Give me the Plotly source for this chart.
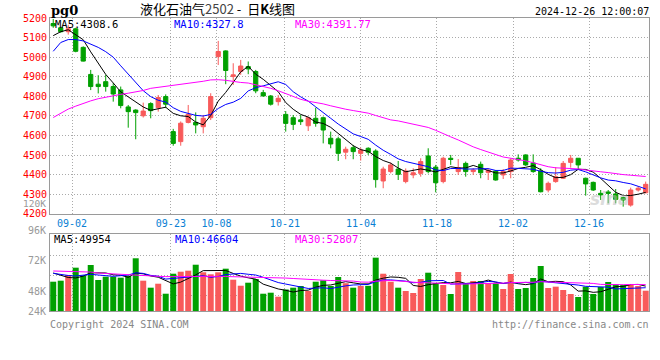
import plotly.graph_objects as go

# ---------------- data ----------------
dates = ["08-28", "08-29", "08-30",
         "09-02", "09-03", "09-04", "09-05", "09-06", "09-09", "09-10", "09-11", "09-12", "09-13",
         "09-18", "09-19", "09-20", "09-23", "09-24", "09-25", "09-26", "09-27", "09-30",
         "10-08", "10-09", "10-10", "10-11", "10-14", "10-15", "10-16", "10-17", "10-18",
         "10-21", "10-22", "10-23", "10-24", "10-25", "10-28", "10-29", "10-30", "10-31",
         "11-01", "11-04", "11-05", "11-06", "11-07", "11-08", "11-11", "11-12", "11-13", "11-14", "11-15",
         "11-18", "11-19", "11-20", "11-21", "11-22", "11-25", "11-26", "11-27", "11-28", "11-29",
         "12-02", "12-03", "12-04", "12-05", "12-06", "12-09", "12-10", "12-11", "12-12", "12-13",
         "12-16", "12-17", "12-18", "12-19", "12-20", "12-23", "12-24", "12-25", "12-26"]

open_ = [5172, 5150, 5130, 5145, 5050, 4912, 4862, 4875, 4850, 4833,
         4746, 4730, 4701, 4763, 4742, 4799, 4620, 4569, 4667, 4667,
         4645, 4691, 5003, 5032, 4901, 4927, 4952, 4927, 4819, 4802,
         4773, 4708, 4691, 4680, 4650, 4688, 4691, 4586, 4583, 4515,
         4538, 4509, 4535, 4521, 4368, 4416, 4429, 4365, 4399, 4407,
         4496, 4439, 4365, 4484, 4416, 4458, 4416, 4453, 4412, 4419,
         4399, 4416, 4484, 4501, 4460, 4419, 4322, 4365, 4382, 4463,
         4484, 4382, 4361, 4305, 4312, 4302, 4283, 4245, 4322, 4308]
high = [5195, 5155, 5165, 5150, 5055, 4935, 4908, 4910, 4867, 4850,
        4756, 4734, 4768, 4770, 4807, 4810, 4634, 4672, 4756, 4718,
        4705, 4816, 5083, 5035, 4969, 4986, 4978, 4935, 4833, 4807,
        4807, 4725, 4705, 4705, 4694, 4742, 4697, 4620, 4594, 4543,
        4552, 4538, 4540, 4530, 4441, 4462, 4470, 4432, 4433, 4484,
        4535, 4450, 4492, 4501, 4480, 4467, 4433, 4467, 4433, 4424,
        4429, 4484, 4504, 4504, 4504, 4433, 4365, 4439, 4470, 4501,
        4484, 4385, 4365, 4322, 4322, 4327, 4288, 4334, 4342, 4365]
low = [5150, 5125, 5115, 5025, 4978, 4832, 4815, 4824, 4773, 4739,
       4640, 4581, 4692, 4688, 4722, 4740, 4548, 4548, 4662, 4611,
       4611, 4679, 4960, 4862, 4858, 4910, 4913, 4816, 4799, 4753,
       4753, 4620, 4628, 4654, 4623, 4645, 4560, 4535, 4470, 4479,
       4479, 4472, 4501, 4334, 4331, 4407, 4373, 4356, 4382, 4390,
       4407, 4310, 4356, 4450, 4399, 4390, 4399, 4382, 4373, 4370,
       4378, 4382, 4467, 4445, 4410, 4310, 4310, 4359, 4378, 4436,
       4429, 4293, 4317, 4271, 4254, 4254, 4237, 4237, 4314, 4305]
close = [5160, 5130, 5145, 5030, 4980, 4850, 4850, 4850, 4812, 4753,
         4722, 4717, 4725, 4727, 4794, 4760, 4560, 4663, 4708, 4654,
         4688, 4799, 5029, 4932, 4910, 4955, 4940, 4828, 4802, 4760,
         4790, 4662, 4657, 4671, 4691, 4662, 4628, 4557, 4509, 4530,
         4518, 4526, 4515, 4375, 4429, 4450, 4402, 4419, 4410, 4467,
         4416, 4359, 4484, 4478, 4436, 4416, 4424, 4410, 4422, 4373,
         4416, 4475, 4475, 4450, 4416, 4313, 4356, 4390, 4458, 4484,
         4450, 4353, 4322, 4297, 4305, 4274, 4271, 4322, 4331, 4351]
volume = [58300, 60300, 71600, 86200, 70600, 91500, 61700, 68300, 68300, 66300,
          70200, 104900, 60300, 46400, 54300, 34400, 74200, 78200, 80200, 92100,
          77000, 73000, 77000, 84200, 62300, 50300, 56300, 63700, 34400, 36400,
          28500, 42800, 46400, 49800, 39800, 58300, 61100, 49800, 67700, 55300,
          46400, 49800, 50100, 106100, 74200, 58300, 46400, 39800, 35800, 63700,
          76200, 55100, 51700, 33800, 77600, 55700, 59700, 59700, 55100, 55100,
          43800, 73600, 43800, 45800, 65700, 89600, 45800, 48400, 41800, 33800,
          27900, 48400, 33800, 47800, 57700, 53700, 51700, 51700, 49800, 40400]

# moving-average values before a full window is visible
ma5_head = [5110, 5130, 5140, 5114]
ma10_head = [5030, 5075, 5090, 5090, 5083, 5068, 5050, 5028, 5000]
ma30_head = [4692, 4712, 4735, 4750, 4765, 4777, 4788, 4796, 4804, 4810,
             4816, 4822, 4830, 4841, 4846, 4850, 4854, 4861, 4866, 4872,
             4877, 4884, 4885, 4882, 4876, 4871, 4868, 4860, 4850]
vma5_head = [75600, 70600, 66700, 65700]
vma10_head = [75000, 72600, 70600, 69700, 71600, 73000, 71600, 70200, 69000]
vma30_head = [79600, 79400, 79200, 79000, 78600, 77500, 75500, 74500, 73500, 72800,
              72200, 71400, 70600, 69800, 69000, 68400, 68600, 68900, 69300, 69600,
              69600, 69200, 68900, 68600, 68300, 67800, 67200, 66700, 66300]

tick_labels = ["09-02", "09-23", "10-08", "10-21", "11-04", "11-18", "12-02", "12-16"]
price_ticks = list(range(4200, 5201, 100))
vol_labels = ["120K", "96K", "72K", "48K", "24K"]

ma_price_text = ["MA5:4308.6", "MA10:4327.8", "MA30:4391.77"]
ma_vol_text = ["MA5:49954", "MA10:46604", "MA30:52807"]


def rolling(vals, n, head):
    out = list(head)
    for i in range(len(head), len(vals)):
        out.append(sum(vals[i - n + 1:i + 1]) / n)
    return out


ma5 = rolling(close, 5, ma5_head)
ma10 = rolling(close, 10, ma10_head)
ma30 = rolling(close, 30, ma30_head)
vma5 = rolling(volume, 5, vma5_head)
vma10 = rolling(volume, 10, vma10_head)
vma30 = rolling(volume, 30, vma30_head)

# ---------------- styling / layout ----------------
RED = "#F85A5A"
GREEN = "#00A000"
C5, C10, C30 = "#000000", "#0000FF", "#FF00FF"
FRAME = "#9A9A9A"
GRID = "#AAAAAA"
MONO = "DejaVu Sans Mono"

W, H = 660, 360
L, R, T, B = 50, 649, 18, 311


def pxx(x):
    return (x - L) / (R - L)


def pxy(y):
    return (B - y) / (B - T)


idx = list(range(len(dates)))
GRID_STEP = 7.603 / 7.5
tickvals = [2.51 + (dates.index(t) - 3) * GRID_STEP for t in tick_labels]

fig = go.Figure()

fig.add_trace(go.Candlestick(
    x=idx, open=open_, high=high, low=low, close=close,
    increasing=dict(line=dict(color=RED, width=1), fillcolor=RED),
    decreasing=dict(line=dict(color=GREEN, width=1), fillcolor=GREEN),
    whiskerwidth=0, xaxis="x", yaxis="y", showlegend=False, hoverinfo="skip"))

for vals, col in [(ma5, C5), (ma10, C10), (ma30, C30)]:
    fig.add_trace(go.Scatter(x=idx, y=vals, mode="lines", line=dict(color=col, width=1),
                             xaxis="x", yaxis="y", showlegend=False, hoverinfo="skip"))

vcolors = [RED if c >= o else GREEN for o, c in zip(open_, close)]
fig.add_trace(go.Bar(x=idx, y=volume, marker=dict(color=vcolors, line=dict(width=0)),
                     xaxis="x2", yaxis="y2", showlegend=False, hoverinfo="skip"))
for vals, col in [(vma5, C5), (vma10, C10), (vma30, C30)]:
    fig.add_trace(go.Scatter(x=idx, y=vals, mode="lines", line=dict(color=col, width=1),
                             xaxis="x2", yaxis="y2", showlegend=False, hoverinfo="skip"))

xr = [-0.43, 79.44]
vol_top = 152600

ann = []


def text(x, y, s, color, size=10, xanchor="left", family=MONO, **kw):
    ann.append(dict(x=pxx(x), y=pxy(y), xref="paper", yref="paper", text=s, showarrow=False,
                    xanchor=xanchor, yanchor="middle", borderpad=0,
                    font=dict(family=family, size=size, color=color), **kw))


text(50, 10, "<b>pg0</b>", "#000000", size=13, family="DejaVu Serif")
text(139, 9, "液化石油气<span style='color:#444'>2502</span> -  日<b>K</b>线图", "#000000",
     size=13, family="Noto Sans CJK SC")
text(650, 12, "2024-12-26 12:00:07", "#000000", xanchor="right")

for s, x, c in zip(ma_price_text, [54, 173, 294], [C5, C10, C30]):
    text(x, 24, s, c, size=10.5)
for s, x, c in zip(ma_vol_text, [53, 174, 294], [C5, C10, C30]):
    text(x, 238.5, s, c, size=10.5)

for s, y, fs in zip(vol_labels, [203.5, 230.3, 260.7, 291, 311], [9.5, 10, 10, 10, 10]):
    text(47, y, s, "#999999", size=fs, xanchor="right")

text(49, 324, "Copyright 2024 SINA.COM", "#888888")
text(650, 324, "http://finance.sina.com.cn", "#888888", xanchor="right")
ann.append(dict(x=pxx(632), y=pxy(199), xref="paper", yref="paper", text="<b><i>sina</i></b>",
                showarrow=False, font=dict(family="DejaVu Sans", size=17, color="rgba(190,190,190,0.55)")))

axis_common = dict(showline=True, linecolor=FRAME, linewidth=1, mirror=True, zeroline=False,
                   showgrid=True, gridcolor=GRID, griddash="1px,2px", gridwidth=1, ticks="",
                   automargin=False)

fig.update_layout(
    template="none",
    width=W, height=H, margin=dict(l=L, r=W - R, t=T, b=H - B, pad=0),
    paper_bgcolor="white", plot_bgcolor="white", showlegend=False,
    bargap=0.2, boxgap=0.2,
    xaxis=dict(domain=[0, 1], range=xr, anchor="y", tickmode="array", tickvals=tickvals,
               ticktext=tick_labels, tickfont=dict(family=MONO, size=10, color="#0a7fd4"),
               rangeslider=dict(visible=False), **axis_common),
    yaxis=dict(domain=[pxy(213.9), 1], range=[4200, 5200], tickmode="array", tickvals=price_ticks,
               tickfont=dict(family=MONO, size=10, color="#FF0000"), anchor="x", **axis_common),
    xaxis2=dict(domain=[0, 1], range=xr, anchor="y2", tickmode="array", tickvals=tickvals,
                showticklabels=False, **axis_common),
    yaxis2=dict(domain=[0, pxy(234.3)], range=[0, vol_top], tickmode="array",
                tickvals=[31200, 70200, 110000], showticklabels=False, anchor="x2", **axis_common),
    annotations=ann,
)

fig.write_html("out.html", config={"displayModeBar": False},
               post_script="document.body.style.margin='0';")
